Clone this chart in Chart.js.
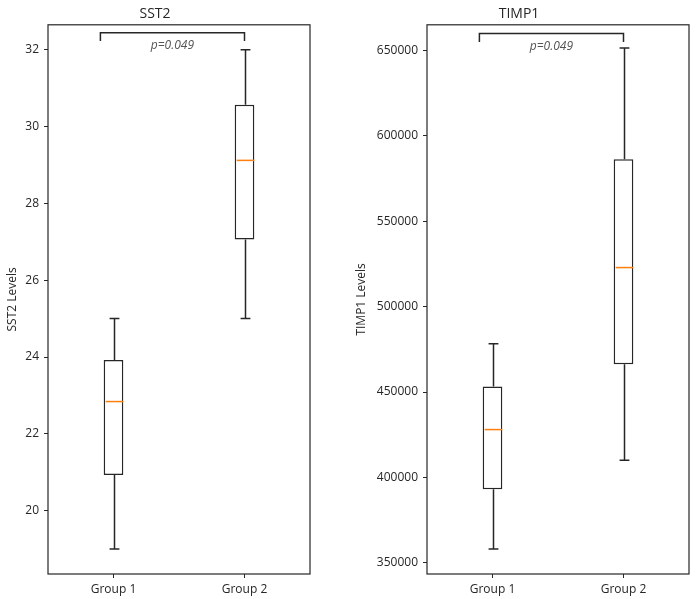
<!DOCTYPE html>
<html>
<head>
<meta charset="utf-8">
<script src="https://cdn.jsdelivr.net/npm/chart.js@4"></script>
<style>
    html, body { margin: 0; padding: 0; background: #fff; }
    .wrap { position: relative; width: 698px; height: 599px; }
    .panel { position: absolute; top: 0; width: 349px; height: 599px; }
</style>
</head>
<body>
<div class="wrap">
    <div class="panel" style="left:0"><canvas id="sst2Chart"></canvas></div>
    <div class="panel" style="left:349px"><canvas id="timp1Chart"></canvas></div>
</div>
<script>
// Groups on the x axis
const groups = ['Group 1', 'Group 2'];

// SST2 box stats per group
const sst2Min = [19, 25];
const sst2Q1 = [20.93, 27.06];
const sst2Median = [22.84, 29.12];
const sst2Q3 = [23.92, 30.57];
const sst2Max = [25, 32];
const sst2Ticks = [20, 22, 24, 26, 28, 30, 32];

// TIMP1 box stats per group
const timp1Min = [358000, 410000];
const timp1Q1 = [393000, 466300];
const timp1Median = [428000, 522900];
const timp1Q3 = [453200, 586400];
const timp1Max = [478200, 651500];
const timp1Ticks = [350000, 400000, 450000, 500000, 550000, 600000, 650000];

// significance annotation
const pLabel = 'p=0.049';

const FONT = "'Open Sans', 'Noto Sans', sans-serif";
const INK = '#262626';

// draws whiskers, caps, medians, the frame and the p-value bracket
const boxExtras = {
    id: 'boxExtras',
    afterDatasetsDraw(chart, args, opts) {
        const ctx = chart.ctx;
        const x = chart.scales.x;
        const y = chart.scales.y;
        const area = chart.chartArea;
        const halfBox = (x.getPixelForValue(1) - x.getPixelForValue(0)) * 0.15 / 2;
        const halfCap = halfBox / 2;

        ctx.save();
        ctx.lineWidth = 1.5;
        ctx.strokeStyle = INK;
        opts.min.forEach(function(v, i) {
            const cx = Math.round(x.getPixelForValue(i)) + 0.5;
            const yMin = y.getPixelForValue(opts.min[i]);
            const yMax = y.getPixelForValue(opts.max[i]);
            ctx.beginPath();
            ctx.moveTo(cx, yMin);
            ctx.lineTo(cx, y.getPixelForValue(opts.q1[i]));
            ctx.moveTo(cx, y.getPixelForValue(opts.q3[i]));
            ctx.lineTo(cx, yMax);
            ctx.moveTo(cx - halfCap, yMin);
            ctx.lineTo(cx + halfCap, yMin);
            ctx.moveTo(cx - halfCap, yMax);
            ctx.lineTo(cx + halfCap, yMax);
            ctx.stroke();

            // median
            ctx.strokeStyle = '#ff7f0e';
            ctx.beginPath();
            const ym = y.getPixelForValue(opts.median[i]);
            ctx.moveTo(cx - halfBox + 1, ym);
            ctx.lineTo(cx + halfBox - 1, ym);
            ctx.stroke();
            ctx.strokeStyle = INK;
        });

        // frame on all four sides
        ctx.lineWidth = 1.2;
        ctx.strokeRect(area.left, area.top, area.right - area.left, area.bottom - area.top);

        // bracket from just left of group 1 to group 2
        const bx0 = x.getPixelForValue(-0.1);
        const bx1 = x.getPixelForValue(1);
        const by = y.getPixelForValue(opts.bracket[0]);
        const byEnd = y.getPixelForValue(opts.bracket[1]);
        ctx.lineWidth = 1.5;
        ctx.beginPath();
        ctx.moveTo(bx0, byEnd);
        ctx.lineTo(bx0, by);
        ctx.lineTo(bx1, by);
        ctx.lineTo(bx1, byEnd);
        ctx.stroke();

        ctx.fillStyle = '#555';
        ctx.font = 'italic 12px ' + FONT;
        ctx.textAlign = 'center';
        ctx.textBaseline = 'middle';
        ctx.fillText(pLabel, x.getPixelForValue(0.45), y.getPixelForValue(opts.bracket[2]));
        ctx.restore();
    }
};

function makeBoxChart(canvasId, title, yTitle, q1, q3, extras, ticks, yMin, yMax, yAxisWidth) {
    const ctx = document.getElementById(canvasId).getContext('2d');
    return new Chart(ctx, {
        type: 'bar',
        data: {
            labels: groups,
            datasets: [{
                data: q1.map((v, i) => [v, q3[i]]),
                backgroundColor: '#ffffff',
                borderColor: INK,
                borderWidth: 1.5,
                borderSkipped: false,
                barPercentage: 0.15,
                categoryPercentage: 1
            }]
        },
        options: {
            responsive: true,
            maintainAspectRatio: false,
            animation: false,
            layout: { padding: { left: 0, right: 349 - 262 - yAxisWidth, top: 0, bottom: 0 } },
            plugins: {
                legend: { display: false },
                tooltip: { enabled: false },
                title: {
                    display: true,
                    text: title,
                    color: INK,
                    font: { family: FONT, size: 14, weight: 'normal' },
                    padding: { top: 6, bottom: 2 }
                },
                boxExtras: extras
            },
            scales: {
                x: {
                    offset: true,
                    border: { display: false },
                    grid: { display: true, drawOnChartArea: false, drawTicks: true, tickLength: 4, color: INK, offset: false },
                    ticks: { color: INK, padding: 4, font: { family: FONT, size: 12 } },
                    afterFit: function(scale) { scale.height = 25; }
                },
                y: {
                    min: yMin,
                    max: yMax,
                    border: { display: false },
                    grid: { display: true, drawOnChartArea: false, drawTicks: true, tickLength: 4, color: INK },
                    ticks: {
                        color: INK,
                        padding: 5,
                        font: { family: FONT, size: 12 },
                        callback: function(value) { return String(value); }
                    },
                    afterBuildTicks: function(scale) {
                        scale.ticks = ticks.map(v => ({ value: v }));
                    },
                    title: {
                        display: true,
                        text: yTitle,
                        color: INK,
                        font: { family: FONT, size: 12 },
                        padding: { top: 5, bottom: 0 }
                    },
                    afterFit: function(scale) { scale.width = yAxisWidth; }
                }
            }
        },
        plugins: [boxExtras]
    });
}

makeBoxChart('sst2Chart', 'SST2', 'SST2 Levels', sst2Q1, sst2Q3, {
    min: sst2Min, q1: sst2Q1, median: sst2Median, q3: sst2Q3, max: sst2Max,
    bracket: [32.44, 32.23, 32.1]
}, sst2Ticks, 18.35, 32.65, 48);

makeBoxChart('timp1Chart', 'TIMP1', 'TIMP1 Levels', timp1Q1, timp1Q3, {
    min: timp1Min, q1: timp1Q1, median: timp1Median, q3: timp1Q3, max: timp1Max,
    bracket: [660000, 655000, 652500]
}, timp1Ticks, 343400, 665100, 78);
</script>
</body>
</html>
